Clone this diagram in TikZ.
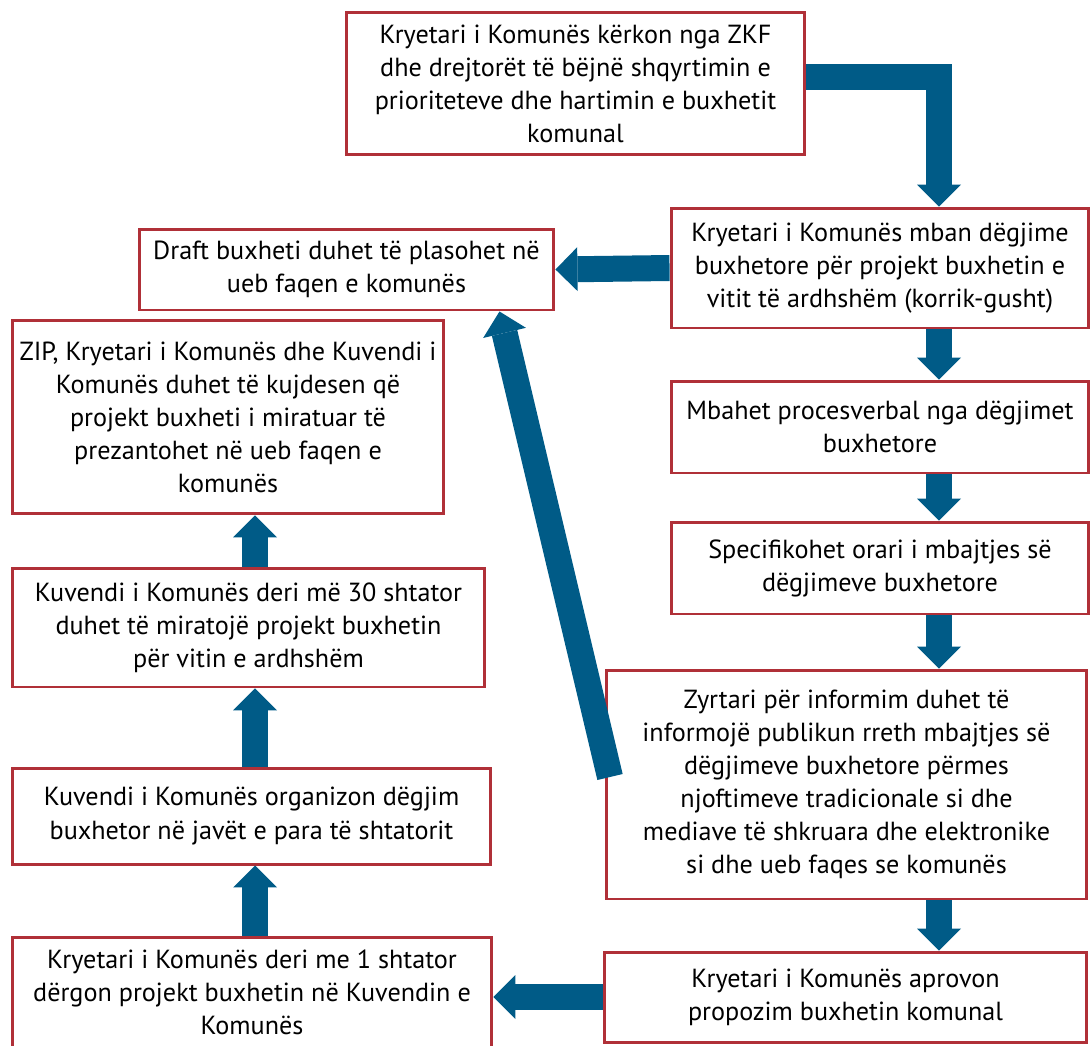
\documentclass[tikz,border=0pt]{standalone}
\usepackage{fontspec}
\setmainfont{PT Sans}
\usepackage{tikz}
\usetikzlibrary{arrows.meta, positioning}

\definecolor{boxred}{RGB}{176,48,56}
\definecolor{flowblue}{RGB}{0,91,135}

\begin{document}
\begin{tikzpicture}[x=0.02cm, y=-0.02cm,
  every node/.style={font={\fontsize{14.9pt}{18.8pt}\selectfont}},
  box/.style={draw=boxred, line width=1.7pt, fill=white, align=center, inner sep=0pt},
  flow/.style={draw=flowblue, line width=0.52cm, line join=miter,
    -{Triangle[width=0.88cm 0, length=0.44cm 0, line width=0pt 0 0, fill=flowblue]}}]
% page frame
\path[use as bounding box, clip] (0,0) rectangle (1091,1045);

% right column
\node[box, minimum width=9.18cm, minimum height=2.86cm] (ask) at (575.5,83.5)
  {Kryetari i Komunës kërkon nga ZKF\\dhe drejtorët të bëjnë shqyrtimin e\\prioriteteve dhe hartimin e buxhetit\\komunal};
\node[box, minimum width=8.36cm, minimum height=2.40cm] (hear) at (880,268)
  {Kryetari i Komunës mban dëgjime\\buxhetore për projekt buxhetin e\\vitit të ardhshëm (korrik-gusht)};
\node[box, minimum width=8.36cm, minimum height=1.84cm] (minutes) at (880,427)
  {Mbahet procesverbal nga dëgjimet\\buxhetore};
\node[box, minimum width=8.36cm, minimum height=1.84cm] (schedule) at (880,568)
  {Specifikohet orari i mbajtjes së\\dëgjimeve buxhetore};
\node[box, minimum width=9.62cm, minimum height=4.58cm] (inform) at (846.5,784.5)
  {Zyrtari për informim duhet të\\informojë publikun rreth mbajtjes së\\dëgjimeve buxhetore përmes\\njoftimeve tradicionale si dhe\\mediave të shkruara dhe elektronike\\si dhe ueb faqes se komunës};
\node[box, minimum width=9.66cm, minimum height=1.80cm] (approve) at (845.5,997)
  {Kryetari i Komunës aprovon\\propozim buxhetin komunal};

% left column
\node[box, minimum width=8.30cm, minimum height=1.62cm] (draft) at (346.5,269.5)
  {Draft buxheti duhet të plasohet në\\ueb faqen e komunës};
\node[box, minimum width=8.64cm, minimum height=3.88cm] (publish) at (228,417)
  {ZIP, Kryetari i Komunës dhe Kuvendi i\\Komunës duhet të kujdesen që\\projekt buxheti i miratuar të\\prezantohet në ueb faqen e\\komunës};
\node[box, minimum width=9.46cm, minimum height=2.38cm] (adopt) at (248.5,627.5)
  {Kuvendi i Komunës deri më 30 shtator\\duhet të miratojë projekt buxhetin\\për vitin e ardhshëm};
\node[box, minimum width=9.58cm, minimum height=1.92cm] (organize) at (251.5,816)
  {Kuvendi i Komunës organizon dëgjim\\buxhetor në javët e para të shtatorit};
\node[box, minimum width=9.60cm, minimum height=2.22cm] (send) at (252,992.5)
  {Kryetari i Komunës deri me 1 shtator\\dërgon projekt buxhetin në Kuvendin e\\Komunës};

% arrow lanes
\coordinate (rlane) at (939,0);
\coordinate (llane) at (255,0);
\coordinate (diagtail) at (610,777);

% arrows down the right
\draw[flow] ([yshift=0.13cm]ask.east) -| (hear.north -| rlane);
\draw[flow] (hear.south -| rlane) -- (minutes.north -| rlane);
\draw[flow] (minutes.south -| rlane) -- (schedule.north -| rlane);
\draw[flow] (schedule.south -| rlane) -- (inform.north -| rlane);
\draw[flow] (inform.south -| rlane) -- (approve.north -| rlane);

% across and up the left
\draw[flow] (hear.west) -- (draft.east);
\draw[flow] (approve.west) -- (approve.west -| send.east);
\draw[flow] (send.north -| llane) -- (organize.south -| llane);
\draw[flow] (organize.north -| llane) -- (adopt.south -| llane);
\draw[flow] (adopt.north -| llane) -- (publish.south -| llane);
\draw[flow] (diagtail) -- ([xshift=-1.12cm]draft.south east);
\end{tikzpicture}
\end{document}
